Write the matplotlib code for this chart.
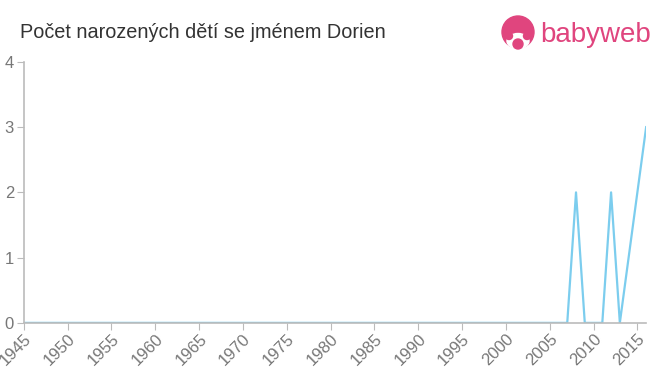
import matplotlib
matplotlib.use("Agg")
from matplotlib import pyplot as plt
from matplotlib.patches import Ellipse

plt.rcParams['font.family'] = ['Liberation Sans', 'DejaVu Sans']

# data (2014 and 2015 have no record)
years = list(range(1945, 2014)) + [2016]
counts = [0] * len(years)
peaks = {2008: 2, 2012: 2, 2016: 3}
for y, v in peaks.items():
    counts[years.index(y)] = v

x_ticks = list(range(1945, 2020, 5))
y_ticks = [0, 1, 2, 3, 4]

title = "Počet narozených dětí se jménem Dorien"

fig = plt.figure(figsize=(6.6, 3.75), dpi=100)
ax = fig.add_axes([0.036, 0.139, 0.943, 0.696])

ax.plot(years, counts, color="#7ccdee", linewidth=1.6)

ax.set_xlim(1945, 2016)
ax.set_ylim(0, 4)
ax.set_xticks(x_ticks)
ax.set_yticks(y_ticks)
ax.tick_params(axis="x", labelrotation=45, labelsize=12, colors="#777777",
               length=5, color="#bbbbbb", pad=1)
ax.tick_params(axis="y", labelsize=12, colors="#777777", length=5, color="#bbbbbb", pad=2)
for lbl in ax.get_xticklabels():
    lbl.set_ha("right")
    lbl.set_rotation_mode("anchor")

for s in ["top", "right"]:
    ax.spines[s].set_visible(False)
ax.spines["left"].set_color("#bbbbbb")
ax.spines["bottom"].set_color("#bbbbbb")
ax.spines["left"].set_linewidth(1.2)
ax.spines["bottom"].set_linewidth(1.2)

fig.text(0.03, 1 - 32 / 375, title, fontsize=14.3, color="#333333", va="center")


# logo (icon drawn in pixel units converted to figure fractions)
def px_ellipse(cx, cy, w, h, color):
    fig.patches.append(Ellipse((cx / 660, 1 - cy / 375), w / 660, h / 375,
                               transform=fig.transFigure, color=color, zorder=5))


pink = "#e0457e"
px_ellipse(518, 32, 32, 32, pink)
px_ellipse(518, 41, 22, 15, "white")
px_ellipse(509, 36, 7, 7, pink)
px_ellipse(527, 36, 7, 7, pink)
px_ellipse(518, 44, 10, 10, pink)
fig.text(540 / 660, 1 - 35 / 375, "babyweb", fontsize=20, color=pink, va="center")

fig.savefig("out.png", dpi=100)
